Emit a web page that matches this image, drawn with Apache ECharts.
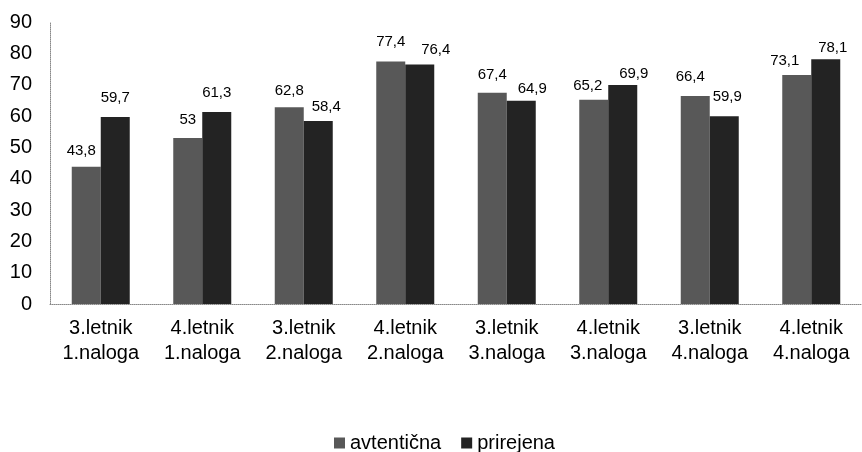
<!DOCTYPE html>
<html><head><meta charset="utf-8">
<script src="https://cdn.jsdelivr.net/npm/echarts@6/dist/echarts.min.js"></script>
<style>html,body{margin:0;padding:0;background:#fff}#c{width:862px;height:452px}</style>
</head><body><div id="c"></div>
<script>
var categories = ['3.letnik\n1.naloga','4.letnik\n1.naloga','3.letnik\n2.naloga','4.letnik\n2.naloga','3.letnik\n3.naloga','4.letnik\n3.naloga','3.letnik\n4.naloga','4.letnik\n4.naloga'];
var avtenticna = [43.8, 53, 62.8, 77.4, 67.4, 65.2, 66.4, 73.1];
var prirejena = [59.7, 61.3, 58.4, 76.4, 64.9, 69.9, 59.9, 78.1];
var seriesNames = ['avtentična', 'prirejena'];
var colors = ['#585858', '#232323'];
// label placement tweaks (style only): [dx, dy] in px
var avtLabelOffsets = [[-5,-8],[0,-11],[0,-9],[0,-12],[0,-10],[-6,-6],[-5,-12],[-12,-7]];
var priLabelOffsets = [[0,-12],[0,-12],[8,-7],[16,-7],[11,-4],[11,-4],[3,-12],[7,-4]];
var font = 'Liberation Sans, Arial, sans-serif';
function fmt(p){return String(p.value).replace('.', ',');}
function build(values, offsets){
  return values.map(function(v, i){
    return {value:v, label:{offset:offsets[i]}};
  });
}
var lbl = {show:true, position:'top', distance:0, color:'#000', fontSize:15, fontFamily:font, formatter:fmt};
var chart = echarts.init(document.getElementById('c'));
chart.setOption({
  animation:false,
  grid:{left:50, right:-9, top:22, bottom:148, containLabel:false},
  legend:{top:428, left:329, itemWidth:11, itemHeight:11, itemGap:20, itemTextGap:3,
    textStyle:{fontSize:20, color:'#000', fontFamily:font}, icon:'rect', data:seriesNames},
  xAxis:{type:'category', data:categories,
    axisLine:{lineStyle:{color:'#888', type:'dotted', width:1}},
    axisTick:{show:false},
    axisLabel:{fontSize:20, color:'#000', fontFamily:font, lineHeight:25, margin:12, interval:0}},
  yAxis:{type:'value', min:0, max:90, interval:10,
    axisLine:{show:true, lineStyle:{color:'#888', type:'dotted', width:1}},
    axisTick:{show:false}, splitLine:{show:false},
    axisLabel:{fontSize:20, color:'#000', fontFamily:font, margin:18}},
  series:[
    {name:seriesNames[0], type:'bar', data:build(avtenticna, avtLabelOffsets), barWidth:29, barGap:'0%', itemStyle:{color:colors[0]}, label:lbl},
    {name:seriesNames[1], type:'bar', data:build(prirejena, priLabelOffsets), barWidth:29, barGap:'0%', itemStyle:{color:colors[1]}, label:lbl}
  ]
});
</script></body></html>
